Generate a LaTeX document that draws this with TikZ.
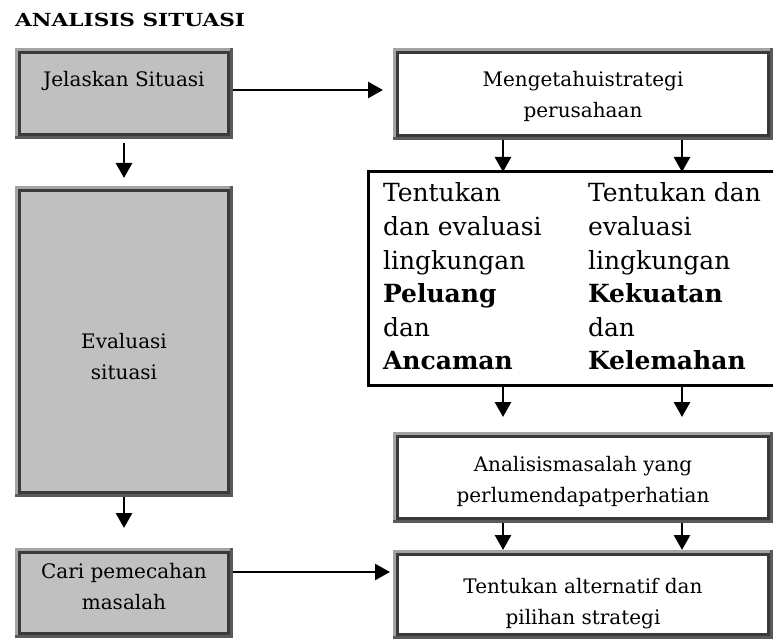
\documentclass[tikz,border=0pt]{standalone}
\usepackage{fontspec}
\setmainfont{DejaVu Serif}
\usetikzlibrary{arrows.meta,backgrounds}

\definecolor{boxgray}{HTML}{C0C0C0}
\definecolor{banddark}{HTML}{5A5A5A}
\definecolor{bandlight}{HTML}{A4A4A4}
\definecolor{rimline}{HTML}{3A3A3A}

\tikzset{
  panel/.style={inner sep=0pt, outer sep=0pt},
  boxtext/.style={inner sep=0pt, align=center,
    font=\fontsize{20}{31}\selectfont},
  coltext/.style={inner sep=0pt, outer sep=0pt, align=left,
    font=\fontsize{25}{33.6}\selectfont},
  arr/.style={line width=2.8pt, -{Triangle[length=15pt,width=16pt]}},
  envline/.style={line width=3pt, line cap=rect},
}

\begin{document}
\begin{tikzpicture}[x=1pt, y=-1pt]
  \useasboundingbox (0,0) rectangle (773,639);

  % heading
  \node[anchor=west, inner sep=0pt, font=\fontsize{18}{20}\selectfont\bfseries]
    (title) at (15,20) {\scalebox{1.2}[1]{ANALISIS SITUASI}};

  % left column
  \node[panel, minimum width=218pt, minimum height=91pt,
    label={[boxtext, yshift=13.5pt]center:{\strut Jelaskan Situasi}}] (jel) at (124,93.5) {};
  \node[panel, minimum width=218pt, minimum height=311pt,
    label={[boxtext, yshift=-16pt]center:{\strut Evaluasi\\\strut situasi}}] (eva) at (124,341.5) {};
  \node[panel, minimum width=218pt, minimum height=90pt,
    label={[boxtext, yshift=5.5pt]center:{\strut Cari pemecahan\\\strut masalah}}] (cari) at (124,593) {};

  % right column
  \node[panel, minimum width=380pt, minimum height=92pt,
    label={[boxtext, yshift=-2pt]center:{\strut Mengetahuistrategi\\\strut perusahaan}}] (men) at (583,94) {};
  \node[panel, minimum width=406pt, minimum height=213pt] (env) at (571,278.5) {};
  \node[panel, minimum width=380pt, minimum height=91pt,
    label={[boxtext, yshift=-3.5pt]center:{\strut Analisismasalah yang\\\strut perlumendapatperhatian}}] (ana) at (583,477.5) {};
  \node[panel, minimum width=380pt, minimum height=89pt,
    label={[boxtext, yshift=-8pt]center:{\strut Tentukan alternatif dan\\\strut pilihan strategi}}] (alt) at (583,594.5) {};

  \node[coltext, anchor=west] (envL) at (383,276.5)
    {Tentukan\\dan evaluasi\\lingkungan\\\textbf{Peluang}\\dan\\\textbf{Ancaman}};
  \node[coltext, anchor=west] (envR) at (588,276.5)
    {Tentukan dan\\evaluasi\\lingkungan\\\textbf{Kekuatan}\\dan\\\textbf{Kelemahan}};

  % bevelled frames behind the box texts
  \begin{scope}[on background layer]
    \fill[white] (0,0) rectangle (773,639);
    \foreach \n/\c in {jel/boxgray, eva/boxgray, cari/boxgray, men/white, ana/white, alt/white}{
      \fill[banddark] (\n.north west) rectangle (\n.south east);
      \fill[bandlight] (\n.north west) rectangle ([shift={(-3,-3)}]\n.south east);
      \draw[rimline, line width=3pt, fill=\c]
        ([shift={(4.5,4.5)}]\n.north west) rectangle ([shift={(-4.5,-4.5)}]\n.south east);
    }
  \end{scope}

  % open frame round the two environment lists
  \draw[envline] (env.north east) -- (env.north west) -- (env.south west) -- (env.south east);

  % connectors
  \coordinate (colA) at (503,0);
  \coordinate (colB) at (682,0);
  \coordinate (j1) at ([yshift=3.5pt]jel.east);
  \coordinate (c1) at ([yshift=21pt]cari.east);

  \draw[arr, shorten >=10pt] (j1) -- (j1 -| men.west);
  \draw[arr, shorten <=4pt, shorten >=8pt] (jel.south) -- (eva.north);
  \draw[arr, shorten >=20pt] (eva.south) -- (cari.north);
  \draw[arr, shorten >=3pt] (c1) -- (c1 -| alt.west);
  \foreach \c in {colA,colB}{
    \draw[arr] (men.south -| \c) -- (env.north -| \c);
    \draw[arr, shorten >=15pt] (env.south -| \c) -- (ana.north -| \c);
    \draw[arr] (ana.south -| \c) -- (alt.north -| \c);
  }
\end{tikzpicture}
\end{document}
